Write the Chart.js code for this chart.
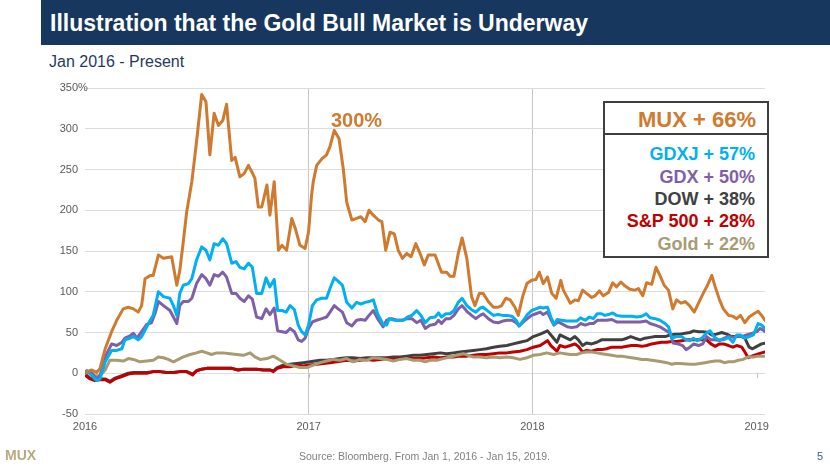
<!DOCTYPE html>
<html><head><meta charset="utf-8">
<script src="https://cdn.jsdelivr.net/npm/chart.js@4.4.1/dist/chart.umd.min.js"></script>
<style>
html,body{margin:0;padding:0;background:#fff;}
body{width:830px;height:467px;position:relative;overflow:hidden;font-family:"Liberation Sans",Arial,sans-serif;}
#banner{position:absolute;left:41px;top:0;width:789px;height:45px;background:#17375e;}
#title{position:absolute;left:50px;top:0;height:45px;line-height:46px;font-size:23px;font-weight:bold;color:#fff;white-space:nowrap;}
#subtitle{position:absolute;left:49px;top:53.5px;font-size:16px;line-height:16px;color:#1f3a60;white-space:nowrap;}
canvas{position:absolute;left:0;top:0;}
#legendBox{position:absolute;left:603px;top:101px;width:162px;height:153px;border:2px solid #3f3f3f;background:#fff;}
#divider{position:absolute;left:603px;top:132.5px;width:166px;height:2px;background:#3f3f3f;}
#muxLine{position:absolute;right:74px;top:108.7px;font-size:22px;line-height:22px;font-weight:bold;color:#d07b2f;white-space:nowrap;text-align:right;}
#rows{position:absolute;right:75px;top:143.1px;font-size:18px;line-height:22.4px;font-weight:bold;text-align:right;white-space:nowrap;}
#peak{position:absolute;left:331px;top:109.8px;font-size:20px;line-height:20px;font-weight:bold;color:#d07b2f;white-space:nowrap;}
#source{position:absolute;left:299px;top:450.4px;font-size:10.5px;line-height:12px;color:#7f7f7f;white-space:nowrap;}
#page{position:absolute;left:817px;top:450px;font-size:11px;line-height:12px;color:#3d5a8c;}
#logo{position:absolute;left:5px;top:448px;font-size:14px;line-height:14px;font-weight:bold;color:#b8aa80;}
</style></head>
<body>
<div id="banner"></div>
<div id="title">Illustration that the Gold Bull Market is Underway</div>
<div id="subtitle">Jan 2016 - Present</div>
<canvas id="c" width="830" height="467"></canvas>
<div id="legendBox"></div>
<div id="divider"></div>
<div id="muxLine">MUX + 66%</div>
<div id="rows">
<div style="color:#00b0f0">GDXJ + 57%</div>
<div style="color:#7f60a8">GDX + 50%</div>
<div style="color:#404040">DOW + 38%</div>
<div style="color:#c00000">S&amp;P 500 + 28%</div>
<div style="color:#a89b72">Gold + 22%</div>
</div>
<div id="peak">300%</div>
<div id="source">Source: Bloomberg. From Jan 1, 2016 - Jan 15, 2019.</div>
<div id="page">5</div>
<div id="logo">MUX</div>
<script>
// x values: weeks since Jan 1, 2016; y values: % change since Jan 1, 2016
const yearLabels = ["2016", "2017", "2018", "2019"];
const yearWeeks = [0, 52.14, 104.29, 156.57];

const muxWeeks = [0,0.4,1.6,2.7,3.5,4.7,6.2,7.4,8.9,10.1,11.3,12.4,13.2,14.0,15.2,15.9,17.1,18.3,20.2,21.4,22.1,22.9,23.7,24.9,26.0,27.2,28.2,29.1,30.1,31.1,32.1,33.0,34.2,35.0,36.1,37.1,38.1,38.9,39.6,40.4,41.2,42.4,43.1,44.1,45.1,45.9,47.0,48.2,49.0,50.1,51.3,52.1,52.8,53.2,54.0,55.2,56.3,57.1,58.1,59.2,60.2,61.0,62.2,63.3,64.3,65.3,66.2,67.2,68.4,69.2,70.1,71.1,72.1,73.0,74.0,75.0,76.0,77.1,78.1,79.1,80.0,81.6,83.1,84.3,85.1,86.0,87.0,87.9,89.0,90.1,90.9,91.9,92.8,94.0,95.2,96.3,97.1,98.1,99.1,100.2,101.0,102.0,103.0,104.1,105.1,105.9,106.8,107.8,108.8,109.8,110.9,111.5,113.1,114.2,115.0,116.0,116.9,118.1,118.9,119.9,120.8,122.0,123.0,123.9,124.9,125.9,127.0,128.2,129.0,130.0,130.9,132.1,133.1,134.0,135.0,136.0,137.0,137.9,138.9,139.9,140.9,142.0,143.0,144.1,145.1,146.1,146.9,147.9,148.8,150.0,151.0,151.9,152.8,153.8,154.8,155.9,156.9,157.7,158.5];
const muxPct = [0,2,4,1,6,30,51,65,79,81,79,75,83,116,120,120,145,141,143,108,126,161,198,235,284,342,333,268,319,304,310,330,261,265,241,245,255,247,239,204,204,231,194,235,151,157,151,190,178,157,153,173,218,235,255,263,268,278,298,288,251,210,188,190,192,186,200,194,188,186,151,173,171,151,141,147,143,159,147,133,145,145,124,124,119,119,147,166,141,94,83,98,98,88,81,81,83,92,90,81,71,94,110,114,115,124,110,118,98,92,114,102,86,90,89,102,98,93,95,101,95,99,111,106,112,107,103,102,104,95,111,109,130,120,108,102,79,90,86,88,83,75,86,98,108,120,106,90,79,71,70,67,71,62,69,73,76,71,65];

const gdxjWeeks = [0,0.4,1.6,2.7,3.5,4.7,6.2,7.4,8.6,9.3,10.5,11.3,12.4,13.2,14.4,15.2,15.9,17.1,18.3,19.8,20.6,21.4,22.1,22.9,24.1,24.9,26.0,27.2,28.2,29.1,30.1,31.1,32.1,33.0,34.2,35.2,36.1,37.1,38.1,39.0,40.0,41.2,42.2,43.1,44.1,44.9,45.9,46.9,47.8,48.8,49.7,50.5,51.3,52.1,53.0,54.0,55.2,56.3,57.1,58.1,59.0,60.0,61.0,62.2,63.3,64.3,65.3,66.2,67.2,68.2,69.5,70.3,70.9,72.1,73.0,74.2,75.2,76.2,77.3,78.3,79.3,80.4,81.6,82.4,83.1,84.1,85.1,86.0,87.0,87.9,89.0,90.1,91.1,92.1,92.8,94.0,95.2,96.3,97.4,98.4,99.5,100.5,101.2,102.2,103.1,104.1,105.1,106.1,106.8,107.8,108.6,109.3,110.1,111.1,112.3,113.4,114.6,115.5,116.6,117.6,118.5,119.4,120.4,121.2,122.0,123.0,123.9,125.1,126.3,127.4,128.6,129.8,130.8,131.7,132.9,134.0,135.2,136.0,136.8,137.9,139.1,140.1,141.0,141.8,142.7,143.8,144.8,145.7,146.6,147.6,148.8,150.0,151.0,151.9,152.8,153.8,154.8,155.8,156.9,157.7,158.5];
const gdxjPct = [0,3,-3,-9,-7,14,28,28,30,41,43,45,41,45,57,65,71,100,94,92,83,71,98,108,110,116,139,155,151,139,159,157,165,159,135,137,130,128,135,130,98,98,117,106,115,77,77,75,83,78,59,51,47,59,83,90,92,92,104,117,113,108,87,80,87,85,87,88,90,73,60,59,67,65,65,65,69,71,77,71,62,68,69,74,69,73,73,77,87,92,83,78,75,80,81,76,71,72,71,71,70,65,58,65,72,77,79,81,80,81,69,60,66,65,64,64,64,68,65,69,67,73,73,71,72,74,71,70,70,70,69,70,73,68,67,65,61,57,43,45,45,41,40,43,40,43,49,52,45,41,41,44,38,47,47,43,45,47,61,59,55];

const gdxWeeks = [0,0.4,1.6,2.7,3.5,4.7,6.2,7.4,8.6,9.3,10.5,11.3,12.1,13.2,14.4,15.5,16.3,17.1,18.3,19.8,20.6,21.4,22.1,22.9,24.1,24.9,26.0,27.2,28.2,29.1,30.1,31.1,32.1,33.0,34.2,35.2,36.1,37.1,38.1,39.0,40.0,41.2,42.2,43.1,44.1,44.9,45.9,46.9,47.8,48.8,49.7,50.5,51.3,52.1,53.0,54.0,55.2,56.3,57.1,58.1,59.0,60.0,61.0,62.2,63.3,64.3,65.3,66.2,67.2,68.2,69.5,70.3,71.5,72.7,73.8,75.2,76.2,77.3,78.3,79.3,80.4,81.6,82.4,83.1,84.1,85.1,86.0,87.0,87.9,89.0,90.1,91.1,92.1,92.8,94.0,95.2,96.3,97.4,98.4,99.5,100.5,101.2,102.2,103.1,104.1,105.1,106.1,106.8,107.8,108.6,109.3,110.3,111.4,112.4,113.4,114.6,115.5,116.6,117.6,118.5,119.4,120.4,121.6,122.8,123.9,125.1,127.0,129.4,130.8,131.7,132.9,134.0,135.2,136.4,137.1,138.3,139.3,140.1,141.0,141.9,143.0,144.0,144.9,145.9,146.9,147.9,149.0,150.0,151.1,151.9,153.1,154.2,155.4,156.6,157.3,158.1,158.5];
const gdxPct = [0,3,0,-7,-3,20,36,34,38,43,46,49,43,51,60,62,73,88,83,77,69,61,83,88,88,92,110,121,116,108,121,119,124,118,98,98,92,88,95,91,69,67,79,72,80,52,51,50,55,51,41,39,43,55,63,65,67,69,75,83,79,75,62,58,65,66,65,71,77,67,57,65,67,65,65,67,67,62,65,55,59,60,65,61,67,67,71,79,83,76,71,67,71,73,67,63,62,64,65,65,62,58,63,67,71,73,75,72,75,66,59,63,60,57,56,57,61,59,61,61,65,65,65,66,63,63,63,63,64,61,59,57,53,49,37,36,34,29,32,36,34,36,45,41,41,40,43,45,44,45,45,47,49,51,55,53,51];

const dowWeeks = [0,0.2,1.2,2.3,3.5,4.7,5.8,7.0,8.6,10.1,11.3,12.8,14.4,15.9,17.5,19.0,20.6,22.1,23.7,25.1,26.0,27.2,28.4,29.9,31.9,34.2,35.7,36.9,38.5,40.0,41.6,43.1,43.9,44.8,46.2,47.8,49.3,50.9,52.4,54.8,56.3,57.9,59.4,61.0,62.5,64.1,65.7,67.2,68.8,70.3,71.9,73.4,75.0,76.5,78.1,79.7,81.2,82.8,84.3,85.9,87.4,89.0,90.5,92.1,93.6,95.2,96.7,98.3,99.8,101.4,103.0,104.5,106.1,107.8,108.6,110.0,110.7,111.9,113.1,114.2,115.0,116.0,116.9,118.1,119.3,120.4,121.6,122.8,123.9,125.1,126.3,127.2,128.2,129.4,130.5,131.7,132.9,134.0,135.2,136.4,137.5,138.7,139.9,141.0,141.9,143.0,144.1,145.3,146.1,147.2,148.4,149.6,150.7,151.9,153.1,153.8,154.8,155.6,156.6,157.7,158.5];
const dowPct = [0,-2,-6,-8,-7,-7,-10,-6,-3,0,1,1,1,2,2,1,1,2,2,-1,3,5,6,6,6,6,4,5,5,5,4,4,3,7,10,11,12,13,14,16,16,17,18,19,19,18,19,19,19,19,20,20,21,22,22,23,24,25,24,25,26,27,28,29,30,32,33,34,36,38,40,45,48,52,47,38,47,44,41,45,41,34,37,36,38,41,41,41,41,41,43,45,43,41,43,44,45,45,45,47,48,48,49,50,52,51,51,50,47,48,50,48,45,45,45,43,32,30,33,36,37];

const spxWeeks = [0,0.2,1.2,2.3,3.5,4.7,5.8,7.0,8.6,10.1,11.3,12.8,14.4,15.9,17.5,19.0,20.6,22.1,23.7,25.1,26.0,27.2,28.4,29.9,31.9,34.2,35.7,36.9,38.5,40.0,41.6,43.1,43.9,44.8,46.2,47.8,49.3,50.9,52.4,54.0,55.5,57.1,58.7,61.0,62.5,64.1,65.7,67.2,68.8,70.3,71.9,73.4,75.0,76.5,78.1,79.7,81.2,82.8,84.3,85.9,87.4,89.0,90.5,92.1,93.6,95.2,96.7,98.3,99.8,101.4,103.0,104.5,106.1,107.8,108.6,110.0,110.7,111.9,113.1,114.2,115.0,116.0,116.9,118.1,119.3,120.4,121.6,122.8,123.9,125.1,126.3,127.4,128.6,129.8,130.9,132.1,133.3,134.4,135.6,136.8,137.9,139.1,140.3,141.4,142.6,143.8,144.9,145.9,146.9,147.9,148.8,150.0,151.0,151.9,153.1,153.8,154.6,155.4,156.6,157.7,158.5];
const spxPct = [0,-3,-7,-9,-8,-8,-11,-7,-4,-1,0,0,0,2,2,1,1,2,2,-2,3,5,6,6,6,6,4,5,5,5,4,4,2,6,8,8,10,9,10,11,12,13,14,16,15,16,17,16,17,18,17,18,18,18,18,19,20,19,20,20,21,21,22,23,23,24,25,25,26,27,29,32,34,40,34,27,34,32,34,36,33,26,28,27,29,29,30,32,32,32,33,34,34,33,34,36,37,38,38,39,39,40,41,41,41,41,41,36,33,36,36,34,32,34,32,26,19,21,23,25,26];

const goldWeeks = [0,0.2,1.2,2.3,3.5,4.7,5.8,7.4,8.9,10.1,11.3,12.8,14.4,15.9,17.1,18.3,19.4,20.6,21.4,22.9,24.5,26.0,27.2,28.4,29.5,30.7,32.2,33.8,35.4,36.9,38.5,39.6,40.8,42.4,43.9,45.5,47.0,48.6,50.1,51.7,53.2,54.8,56.3,57.9,59.4,61.0,62.5,64.1,65.7,67.2,68.8,70.3,71.9,73.4,75.0,76.5,78.1,79.3,80.4,82.0,83.5,85.1,86.6,88.2,89.3,90.5,92.1,93.6,95.2,96.7,98.3,99.8,101.4,103.0,104.5,106.1,107.6,109.2,110.7,111.9,113.1,114.6,115.8,116.9,118.1,119.3,120.4,121.6,122.8,123.9,125.1,126.3,127.4,128.6,129.8,130.9,132.1,133.3,134.4,135.6,136.8,137.5,138.7,141.0,142.2,143.4,144.5,145.7,146.9,148.0,149.0,150.0,151.1,152.3,153.4,154.6,155.8,156.9,158.5];
const goldPct = [0,0,2,-3,-3,4,16,16,15,18,17,14,15,16,20,19,17,14,16,20,23,25,27,25,23,25,25,24,23,22,25,20,17,18,21,16,11,9,7,7,10,13,15,17,16,18,14,17,16,19,18,17,15,17,18,16,16,14,16,16,18,20,22,24,22,20,20,19,20,19,20,19,17,19,22,23,25,23,25,24,23,23,25,26,26,25,24,23,22,21,21,20,19,18,17,17,16,15,14,13,11,12,12,11,11,12,13,14,15,15,13,14,14,16,17,20,20,21,21];

const FONT = '"Liberation Sans", Arial, sans-serif';

function pts(xs, ys) {
  const n = Math.min(xs.length, ys.length);
  const out = [];
  for (let i = 0; i < n; i++) out.push({ x: xs[i], y: ys[i] });
  return out;
}
function ds(label, xs, ys, color, order) {
  return {
    label, data: pts(xs, ys), borderColor: color, backgroundColor: color,
    borderWidth: 3, pointRadius: 0, tension: 0, borderJoinStyle: 'round',
    borderCapStyle: 'round', fill: false, order
  };
}

const extras = {
  id: 'extras',
  afterDraw(chart) {
    const { ctx, scales: { y } } = chart;
    ctx.save();
    ctx.font = '11px ' + FONT;
    ctx.fillStyle = '#595959';
    ctx.textAlign = 'left';
    ctx.textBaseline = 'middle';
    ctx.fillText('%', y.right - 7, y.getPixelForValue(350));
    ctx.restore();
  },
  beforeDatasetsDraw(chart) {
    const { ctx, scales: { x, y } } = chart;
    const y0 = y.getPixelForValue(0);
    ctx.save();
    ctx.strokeStyle = '#bfbfbf';
    ctx.lineWidth = 1;
    yearWeeks.slice(1).forEach(w => {
      const px = Math.round(x.getPixelForValue(w)) + 0.5;
      ctx.beginPath(); ctx.moveTo(px, y0); ctx.lineTo(px, y0 + 5); ctx.stroke();
    });
    ctx.restore();
  }
};

new Chart(document.getElementById('c'), {
  type: 'line',
  data: {
    datasets: [
      ds('MUX', muxWeeks, muxPct, '#cf7a2e', 0),
      ds('GDXJ', gdxjWeeks, gdxjPct, '#00b0f0', 1),
      ds('GDX', gdxWeeks, gdxPct, '#7f60a8', 2),
      ds('Gold', goldWeeks, goldPct, '#a89b72', 3),
      ds('S&P 500', spxWeeks, spxPct, '#c00000', 4),
      ds('DOW', dowWeeks, dowPct, '#404040', 5)
    ]
  },
  options: {
    responsive: false,
    animation: false,
    devicePixelRatio: 1,
    layout: { padding: { top: 88, right: 65, left: 0, bottom: 0 } },
    plugins: { legend: { display: false }, tooltip: { enabled: false } },
    scales: {
      x: {
        type: 'linear', min: 0, max: 158.5,
        afterBuildTicks: (s) => { s.ticks = yearWeeks.map(v => ({ value: v })); },
        afterFit: (s) => { s.height = 53; },
        ticks: {
          autoSkip: false, maxRotation: 0, padding: 6,
          color: '#595959', font: { family: FONT, size: 11 },
          callback: (v, i) => yearLabels[i]
        },
        grid: {
          drawTicks: false,
          color: (c) => (c.index === 1 || c.index === 2) ? '#c6c6c6' : 'rgba(0,0,0,0)',
          lineWidth: 1
        },
        border: { display: false }
      },
      y: {
        min: -50, max: 350,
        afterFit: (s) => { s.width = 85; },
        ticks: {
          stepSize: 50, padding: 7,
          color: '#595959', font: { family: FONT, size: 11 },
          callback: (v) => String(v)
        },
        grid: { drawTicks: false, color: '#dcdcdc', lineWidth: 1 },
        border: { display: false }
      }
    }
  },
  plugins: [extras]
});
</script>
</body></html>
